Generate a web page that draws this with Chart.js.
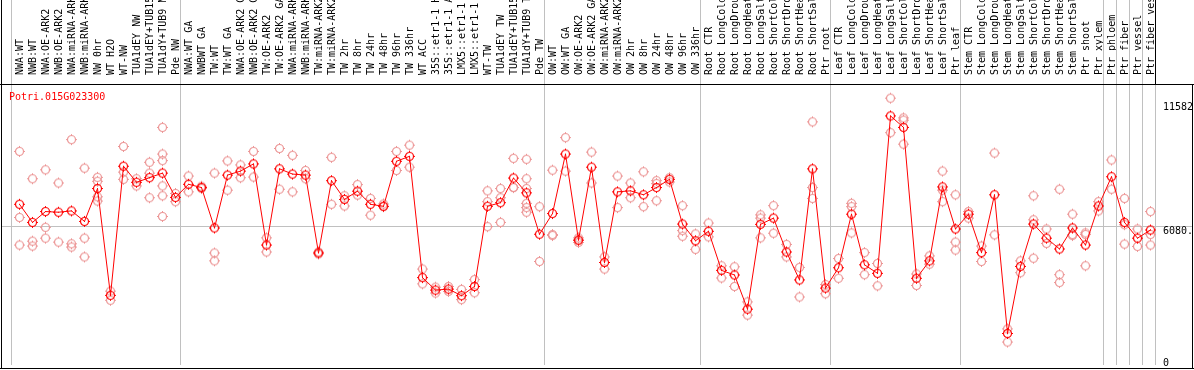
<!DOCTYPE html>
<html><head><meta charset="utf-8">
<script src="https://cdn.jsdelivr.net/npm/chart.js@4"></script>
<style>html,body{margin:0;padding:0;background:#fff}canvas{display:block}</style>
</head><body>
<canvas id="c" width="1194" height="370"></canvas>
<script>
const geneTitle = 'Potri.015G023300';
const categories = [
'NWA:WT','NWB:WT','NWA:OE-ARK2','NWB:OE-ARK2','NWA:miRNA-ARK2','NWB:miRNA-ARK2','NW 0hr','WT H2O','WT-NW','TUA1dEY NW','TUA1dEY+TUB15 NW','TUA1dY+TUB9 NW','Pde NW',
'NWA:WT GA','NWBWT GA','TW:WT','TW:WT GA','NWA:OE-ARK2 GA','NWB:OE-ARK2 GA','TW:OE-ARK2','TW:OE-ARK2 GA','NWA:miRNA-ARK2 GA','NWB:miRNA-ARK2 GA','TW:miRNA-ARK2','TW:miRNA-ARK2 GA','TW 2hr','TW 8hr','TW 24hr','TW 48hr','TW 96hr','TW 336hr','WT ACC','35S::etr1-1 H2O','35S::etr1-1 ACC','LMX5::etr1-1 H2O','LMX5::etr1-1 ACC','WT-TW','TUA1dEY TW','TUA1dEY+TUB15 TW','TUA1dY+TUB9 TW','Pde TW',
'OW:WT','OW:WT GA','OW:OE-ARK2','OW:OE-ARK2 GA','OW:miRNA-ARK2','OW:miRNA-ARK2 GA','OW 2hr','OW 8hr','OW 24hr','OW 48hr','OW 96hr','OW 336hr',
'Root CTR','Root LongCold','Root LongDrought','Root LongHeat','Root LongSalt','Root ShortCold','Root ShortDrought','Root ShortHeat','Root ShortSalt','Ptr root',
'Leaf CTR','Leaf LongCold','Leaf LongDrought','Leaf LongHeat','Leaf LongSalt','Leaf ShortCold','Leaf ShortDrought','Leaf ShortHeat','Leaf ShortSalt','Ptr leaf',
'Stem CTR','Stem LongCold','Stem LongDrought','Stem LongHeat','Stem LongSalt','Stem ShortCold','Stem ShortDrought','Stem ShortHeat','Stem ShortSalt','Ptr shoot',
'Ptr xylem','Ptr phloem','Ptr fiber','Ptr vessel','Ptr fiber vessel'
];
const meanValues = [
7045,6241,6723,6694,6753,6285,7746,2997,8740,8024,8229,8433,7352,
7936,7790,5993,8345,8521,8842,5233,8623,8389,8345,4882,8097,7264,7630,7045,6957,8959,9179,3786,3231,3275,2982,3392,6957,7118,8214,7556,5715,
6636,9281,5452,8696,4458,7600,7644,7469,7790,8156,6168,5423,
5847,4108,3903,2383,6154,6431,4926,3684,8623,3319,
4225,6607,4356,3976,10976,10464,3757,4531,7820,5949,
6607,4897,7469,1302,4283,6168,5540,5058,5993,5233,
6972,8272,6241,5540,5905
];
const replicateValues = [
[9397,6460,5233],[8184,5408,5189],[8579,6022,5540],[7995,5364],[9923,5291,5145],[8652,5540,4707],[8243,8068,7381,7191],[3187,2778],[9617,8477,8155],[8184,7863],[8915,8433,7337],[10464,9280,8988,7863,7425,6504],[7527,7162],
[8301,7600],[7848,7746],[8433,4882,4531],[8974,7673],[8798,8228],[9397,8258],[5554,4926],[9529,7717],[9222,7600],[8550,8184],[4926,4838],[9134,7045],[7425,6972],[7921,7454],[7308,6562],[7059,6942],[9397,8550],[9675,8696],[4166,3508],[3362,3099],[3391,3172],[3260,2807],[3698,3114],[7644,7162,6051],[7746,7337,6241],[9090,7790,7790],[9047,8184,7746,7089,6899,6694],[6942,4502],
[8564,5700,5656],[10011,8521],[5554,5452,5350],[9368,7995],[4707,4166],[8301,6899],[7995,7337],[8491,6942],[8097,7965,7205],[8228,8038],[6986,5876,5627],[5730,5043],
[6212,5598],[4312,3771],[4268,3391],[2705,2120],[6577,6431,5554],[6986,5759],[5262,4707],[4239,2924],[10713,7790,7308],[3479,3070],
[4634,3757],[7089,6942,5773],[4897,3917],[4414,3421],[11765,10230],[10888,10786,9719],[3947,3435],[4750,4385],[8521,7673,7162],[7468,5364,5013],
[6723,6431],[5189,4502],[9324,5686],[1506,922],[4531,4005],[7425,6358,4648],[5949,5306],[7717,3917,3567],[6606,5700,5656],[5773,5700,4312],
[7162,6752],[9017,7717],[7308,6139,5276],[5949,5174],[6723,5700,5233]
];
const groupBoundaries = [0,13,41,53,63,73,84,85,86,87,88];
const yTickValues = [0, 6080, 11582];
const yTickLabels = ['0', '6080.', '11582'];
const gridValues = [6080];
const yMin = -100, yMax = 12350;

const FONT = '10px "DejaVu Sans Mono", "Liberation Mono", monospace';
const RED = '#ff0000', PINK = 'rgb(236,150,150)', GRAY = '#c0c0c0';

function makeMarker(color, dot) {
  const c = document.createElement('canvas');
  c.width = 13; c.height = 13;
  const g = c.getContext('2d');
  g.strokeStyle = color; g.fillStyle = color; g.lineWidth = 1.2;
  g.beginPath(); g.arc(6.5, 6.5, 4, 0, Math.PI * 2); g.stroke();
  g.fillRect(6, 1, 1, 1); g.fillRect(6, 11, 1, 1); g.fillRect(1, 6, 1, 1); g.fillRect(11, 6, 1, 1);
  if (dot) g.fillRect(6, 6, 1, 1);
  return c;
}
const meanMarker = makeMarker(RED, true);
const repMarker = makeMarker(PINK, false);

const replicatePoints = [];
replicateValues.forEach((arr, i) => arr.forEach(v => replicatePoints.push({ x: categories[i], y: v })));

const decor = {
  id: 'decor',
  beforeDatasetsDraw(chart) {
    const ctx = chart.ctx, xs = chart.scales.x, ys = chart.scales.y, a = chart.chartArea;
    ctx.save();
    ctx.fillStyle = GRAY;
    gridValues.forEach(v => { ctx.fillRect(1, Math.floor(ys.getPixelForValue(v)), 1192, 1); });
    groupBoundaries.forEach(k => {
      const x = Math.floor(xs.getPixelForValue(k - 0.5) - 1.5);
      ctx.fillStyle = GRAY;
      ctx.fillRect(x, a.top, 1, a.bottom - a.top);
      ctx.fillStyle = (k === categories.length) ? '#000' : GRAY;
      ctx.fillRect(x, 0, 1, a.top);
    });
    ctx.restore();
  },
  afterDraw(chart) {
    const ctx = chart.ctx, ys = chart.scales.y;
    ctx.save();
    ctx.fillStyle = '#000';
    ctx.fillRect(1, 0, 1, 369);
    ctx.fillRect(0, 84, 1194, 1);
    ctx.fillRect(0, 368, 1194, 1);
    ctx.fillRect(1192, 84, 1, 285);
    ctx.font = FONT;
    ctx.textBaseline = 'alphabetic';
    ctx.textAlign = 'left';
    yTickValues.forEach((v, i) => {
      const py = ys.getPixelForValue(v);
      ctx.fillText(yTickLabels[i], 1163, Math.min(py + 7.5, 365.5));
    });
    ctx.fillStyle = RED;
    ctx.fillText(geneTitle, 9, 100);
    ctx.restore();
  }
};

new Chart(document.getElementById('c'), {
  type: 'line',
  data: {
    labels: categories,
    datasets: [
      { label: 'mean', data: meanValues, borderColor: RED, borderWidth: 1, tension: 0,
        pointStyle: meanMarker, pointRadius: 4, clip: false },
      { label: 'replicates', data: replicatePoints, showLine: false,
        pointStyle: repMarker, pointRadius: 4, clip: false }
    ]
  },
  options: {
    responsive: false, animation: false, devicePixelRatio: 1,
    layout: { padding: { left: 13, right: 37, top: 0, bottom: 1 } },
    plugins: { legend: { display: false }, tooltip: { enabled: false }, title: { display: false } },
    scales: {
      x: {
        type: 'category', position: 'top', offset: true,
        grid: { display: false }, border: { display: false },
        ticks: { autoSkip: false, minRotation: 90, maxRotation: 90, padding: 2, labelOffset: 13, color: '#000',
                 font: { family: '"DejaVu Sans Mono", "Liberation Mono", monospace', size: 10 } },
        afterFit(scale) { scale.height = 85; }
      },
      y: { display: false, min: yMin, max: yMax }
    }
  },
  plugins: [decor]
});
</script>
</body></html>
